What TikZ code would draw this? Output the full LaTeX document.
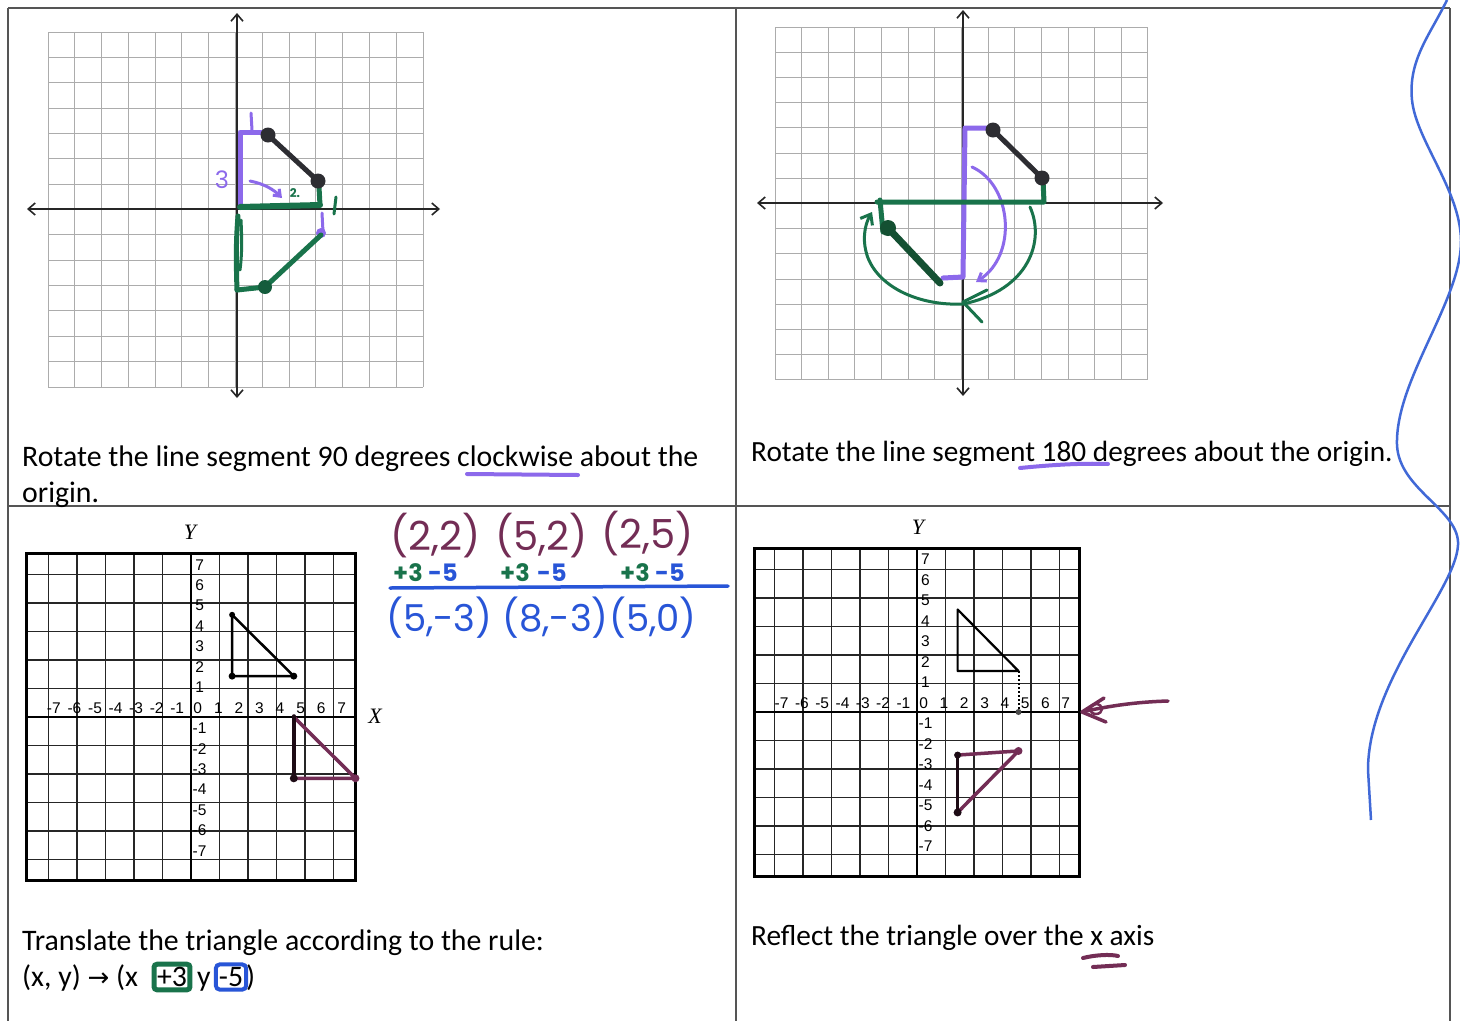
\documentclass[tikz,border=0pt]{standalone}
\usepackage{fontspec}
\setmainfont{Carlito}
\newfontfamily\arialf{Liberation Sans}
\newfontfamily\timesf{Liberation Serif}
\newfontfamily\handf{Poppins}
\newfontfamily\symf{DejaVu Sans}
\usetikzlibrary{arrows.meta}
\definecolor{penpurple}{RGB}{140,105,235}
\definecolor{pengreen}{RGB}{25,115,75}
\definecolor{darkgreen}{RGB}{20,80,50}
\definecolor{penmaroon}{RGB}{115,45,85}
\definecolor{penblue}{RGB}{40,85,215}
\definecolor{wavyblue}{RGB}{65,105,215}
\definecolor{framec}{RGB}{85,85,85}
\definecolor{dotc}{RGB}{45,45,50}
\tikzset{
 frameline/.style={draw=framec, line width=1.6pt},
 topgrid/.style={draw=gray!65, line width=1pt},
 topaxis/.style={draw=black!85, line width=1.6pt, {Straight Barb[length=7pt,width=12pt]}-{Straight Barb[length=7pt,width=12pt]}},
 bgrid/.style={draw=black!85, line width=1.4pt},
 bframe/.style={draw=black, line width=3pt},
 baxis/.style={draw=black, line width=2.4pt},
 txt/.style={font=\fontsize{29.8}{35}\selectfont, inner sep=0pt},
 txtb/.style={font=\fontsize{29.3}{35}\selectfont, inner sep=0pt},
 lab/.style={font=\arialf\fontsize{15.5}{15.5}\selectfont, inner sep=0pt},
 axlab/.style={font=\timesf\itshape\fontsize{22}{22}\selectfont, inner sep=0pt},
 hw/.style={font=\handf\fontsize{40}{40}\selectfont, inner sep=0pt},
 hwb/.style={font=\handf\fontsize{37}{37}\selectfont, inner sep=0pt},
 hws/.style={font=\handf\bfseries\fontsize{24}{24}\selectfont, inner sep=0pt},
 pen/.style={line width=5pt, line cap=round, line join=round},
 thinpen/.style={line width=3pt, line cap=round, line join=round},
}
\begin{document}
\begin{tikzpicture}[x=1pt,y=-1pt]
\fill[white] (0,0) rectangle (1460,1021);
\useasboundingbox (0,0) rectangle (1460,1021);

% ---------- table frame ----------
\draw[frameline] (8,8) -- (1450,8);
\draw[frameline] (8,8) -- (8,1021);
\draw[frameline] (736,8) -- (736,1021);
\draw[frameline] (1450,8) -- (1450,1021);
\draw[frameline] (8,506) -- (1450,506);

% ---------- panel 1 grid ----------
\begin{scope}[xshift=48pt,yshift=-32pt]
 \foreach \i in {0,...,14} {
  \draw[topgrid] ({\i*26.79},0) -- ({\i*26.79},355);
  \draw[topgrid] (0,{\i*25.36}) -- (375,{\i*25.36});
 }
\end{scope}
\draw[topaxis] (27,209) -- (440,209);
\draw[topaxis] (237,13) -- (237,398);

% panel 1 handwriting
\draw[penpurple,pen] (240,207) -- (240,132) -- (262,132);
\draw[penpurple,thinpen] (251,113) -- (252,130);
\node[font=\handf\fontsize{24}{24}\selectfont,text=penpurple,inner sep=0pt] (p1three) at (222,180) {3};
\draw[penpurple,thinpen,-{Straight Barb[length=6pt,width=9pt]}] (250,181) .. controls (265,184) and (274,190) .. (282,198);
\node[font=\handf\bfseries\fontsize{12}{12}\selectfont,text=pengreen,inner sep=0pt] (p1two) at (295,193) {2.};
\draw[pengreen,pen,line width=6pt] (240,207) -- (320,205);
\draw[pengreen,pen] (319,187) -- (320,205);
\draw[pengreen,thinpen] (336,197) -- (334,214);
\draw[penpurple,thinpen] (322,213) -- (323,232);
\fill[penpurple] (321,233) circle (5);
\draw[pengreen,pen] (321,235) -- (265,287) -- (237,290);
\draw[pengreen,pen] (238,216) .. controls (236,240) and (236,260) .. (237,290);
\draw[pengreen,thinpen] (241,220) .. controls (242,240) and (242,255) .. (240,270);
\fill[pengreen!80!black] (265,287) circle (7);
\draw[dotc,line width=5pt] (268,135) -- (318,181);
\fill[dotc] (268,135) circle (7.5);
\fill[dotc] (318,181) circle (7.5);

% ---------- panel 2 grid ----------
\begin{scope}[xshift=775pt,yshift=-27pt]
 \foreach \i in {0,...,14} {
  \draw[topgrid] ({\i*26.64},0) -- ({\i*26.64},353);
  \draw[topgrid] (0,{\i*25.21}) -- (373,{\i*25.21});
 }
\end{scope}
\draw[topaxis] (757,203) -- (1163,203);
\draw[topaxis] (963,10) -- (963,396);

% panel 2 handwriting
\draw[penpurple,pen] (990,128) -- (965,128) -- (963,277) -- (943,278);
\draw[penpurple,thinpen,-{Straight Barb[length=7pt,width=10pt]}] (972,167) .. controls (1012,185) and (1018,255) .. (976,282);
\draw[pengreen,pen] (1043,180) -- (1044,202) -- (877,202);
\draw[pengreen,pen] (880,200) -- (883,232);
\draw[darkgreen,line width=7pt,line cap=round] (888,228) -- (940,283);
\fill[darkgreen] (888,228) circle (8);
\draw[pengreen,thinpen,-{Straight Barb[length=9pt,width=14pt]}] (1030,207) .. controls (1045,240) and (1030,290) .. (963,304) .. controls (920,306) and (880,288) .. (868,258) .. controls (862,242) and (864,226) .. (872,212);
\draw[pengreen,thinpen] (987,290) -- (963,302) -- (982,322);
\draw[dotc,line width=5pt] (993,130) -- (1042,178);
\fill[dotc] (993,130) circle (7.5);
\fill[dotc] (1042,178) circle (7.5);

% ---------- texts top ----------
\node[txt,anchor=base west] (q1a) at (22,466) {Rotate the line segment 90 degrees clockwise about the};
\node[txt,anchor=base west] (q1b) at (22,502) {origin.};
\draw[penpurple,line width=4pt,line cap=round] (467,474) -- (578,475);
\node[txtb,anchor=base west] (q2) at (751,461) {Rotate the line segment 180 degrees about the origin.};
\draw[penpurple,line width=4pt,line cap=round] (1020,468) .. controls (1050,465) and (1080,463) .. (1108,464);

% ---------- panel 3 grid ----------
\node[axlab] (y3) at (190,532) {Y};
\node[axlab] (x3) at (375,716) {X};
\begin{scope}[xshift=191pt,yshift=-717pt,x=20.56pt,y=20.44pt]
 \draw[bgrid] (-8,-8) grid (8,8);
 \draw[baxis] (-8,0) -- (8,0);
 \draw[baxis] (0,-8) -- (0,8);
 \draw[bframe] (-8,-8) rectangle (8,8);
 \foreach \k in {-7,...,7} {
  \node[lab] at (\k+0.33,0.45) {\k};
 }
 \foreach \k in {-7,...,-1,1,2,...,7} {
  \node[lab] at (0.42,\k+0.45) {\k};
 }
 \draw[black,line width=2.5pt,line join=round] (2,5) -- (2,2) -- (5,2) -- cycle;
 \fill (2,5) circle (3pt); \fill (2,2) circle (3.5pt); \fill (5,2) circle (3.5pt);
 \draw[penmaroon,line width=3.5pt,line cap=round,line join=round] (5,0) -- (8,-3) -- (5,-3);
 \draw[black!75!penmaroon,line width=3.5pt,line cap=round] (5,0.05) -- (5,-3);
 \fill[penmaroon] (8,-3) circle (4pt); \fill[black!75!penmaroon] (5,-3) circle (4pt);
\end{scope}

% panel 3 handwriting
\node[hw,text=penmaroon,anchor=west] (c1) at (390,536) {(2,2)};
\node[hw,text=penmaroon,anchor=west] (c2) at (495,536) {(5,2)};
\node[hw,text=penmaroon,anchor=west] (c3) at (601,534) {(2,5)};
\node[hws,text=pengreen,anchor=west] (g1) at (393,573) {+3};
\node[hws,text=penblue,anchor=west] (b1) at (428,573) {-5};
\node[hws,text=pengreen,anchor=west] (g2) at (500,573) {+3};
\node[hws,text=penblue,anchor=west] (b2) at (537,573) {-5};
\node[hws,text=pengreen,anchor=west] (g3) at (620,573) {+3};
\node[hws,text=penblue,anchor=west] (b3) at (655,573) {-5};
\draw[penblue,line width=3.5pt,line cap=round] (390,588) -- (728,586);
\node[hwb,text=penblue,anchor=west] (r1) at (386,618) {(5,-3)};
\node[hwb,text=penblue,anchor=west] (r2) at (502,618) {(8,-3)};
\node[hwb,text=penblue,anchor=west] (r3) at (609,618) {(5,0)};

% panel 3 text
\node[txt,anchor=base west] (q3a) at (22,950) {Translate the triangle according to the rule:};
\node[txt,anchor=base west] (q3b) at (22,986) {(x, y) {\symf\fontsize{26}{26}\selectfont →} (x};
\node[txt,draw=pengreen,line width=5pt,rounded corners=3pt,inner sep=3pt] (gbox) at (172,977) {+3};
\node[txt,anchor=base west] (q3y) at (197,986) {y};
\node[txt,draw=penblue,line width=4pt,rounded corners=4pt,inner sep=3pt] (bbox) at (231,977) {-5};
\node[txt,anchor=base west] (q3p) at (246,986) {)};

% ---------- panel 4 grid ----------
\node[axlab] (y4) at (918,527) {Y};
\begin{scope}[xshift=917pt,yshift=-712pt,x=20.3pt,y=20.5pt]
 \draw[bgrid] (-8,-8) grid (8,8);
 \draw[baxis] (-8,0) -- (8,0);
 \draw[baxis] (0,-8) -- (0,8);
 \draw[bframe] (-8,-8) rectangle (8,8);
 \foreach \k in {-7,...,7} {
  \node[lab] at (\k+0.33,0.45) {\k};
 }
 \foreach \k in {-7,...,-1,1,2,...,7} {
  \node[lab] at (0.42,\k+0.45) {\k};
 }
 \draw[black,line width=2.2pt,line join=round] (2,5) -- (2,2) -- (5,2) -- cycle;
 \draw[black,line width=2pt,dotted] (5,2) -- (5,0);
 \fill[black!70] (5,0) circle (3pt);
 \draw[penmaroon,line width=3.5pt,line cap=round,line join=round] (2,-2.1) -- (5,-1.9) -- (2,-4.9);
 \draw[black!75!penmaroon,line width=3pt,line cap=round] (2,-2.1) -- (2,-4.9);
 \fill[penmaroon] (5,-1.9) circle (4pt); \fill[black!75!penmaroon] (2,-4.9) circle (4pt); \fill[black!75!penmaroon] (2,-2.1) circle (3.5pt);
\end{scope}
% panel 4 arrow
\draw[penmaroon,line width=3.5pt,line cap=round] (1168,701) .. controls (1135,702) and (1110,706) .. (1086,711);
\draw[penmaroon,line width=3.5pt,line cap=round,line join=round] (1104,698) -- (1082,712) -- (1106,722);
\draw[penmaroon,line width=2.5pt] (1096,709) ellipse (6 and 5);

% panel 4 text
\node[txtb,anchor=base west] (q4) at (751,945) {Reflect the triangle over the x axis};
\draw[penmaroon,line width=4pt,line cap=round] (1083,958) .. controls (1095,955) and (1110,954) .. (1118,956);
\draw[penmaroon,line width=4pt,line cap=round] (1093,967) -- (1125,965);

% ---------- blue wavy line ----------
\draw[wavyblue,line width=2.5pt] (1447,0) .. controls (1430,35) and (1408,60) .. (1412,100) .. controls (1416,140) and (1460,190) .. (1461,240) .. controls (1462,300) and (1395,380) .. (1397,445) .. controls (1399,490) and (1460,510) .. (1458,545) .. controls (1456,590) and (1368,680) .. (1368,770) -- (1371,820);
\end{tikzpicture}
\end{document}
